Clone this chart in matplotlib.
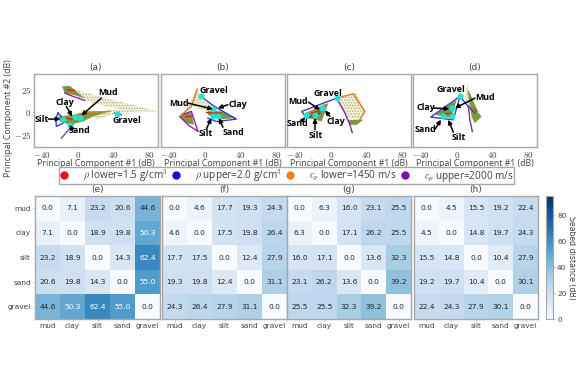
import numpy as np
import matplotlib
matplotlib.use("Agg")
import matplotlib.pyplot as plt
from matplotlib.lines import Line2D

W, H = 576, 384

seabeds = ["mud", "clay", "silt", "sand", "gravel"]
dist_e = [[0.0, 7.1, 23.2, 20.6, 44.6],
          [7.1, 0.0, 18.9, 19.8, 50.3],
          [23.2, 18.9, 0.0, 14.3, 62.4],
          [20.6, 19.8, 14.3, 0.0, 55.0],
          [44.6, 50.3, 62.4, 55.0, 0.0]]
dist_f = [[0.0, 4.6, 17.7, 19.3, 24.3],
          [4.6, 0.0, 17.5, 19.8, 26.4],
          [17.7, 17.5, 0.0, 12.4, 27.9],
          [19.3, 19.8, 12.4, 0.0, 31.1],
          [24.3, 26.4, 27.9, 31.1, 0.0]]
dist_g = [[0.0, 6.3, 16.0, 23.1, 25.5],
          [6.3, 0.0, 17.1, 26.2, 25.5],
          [16.0, 17.1, 0.0, 13.6, 32.3],
          [23.1, 26.2, 13.6, 0.0, 39.2],
          [25.5, 25.5, 32.3, 39.2, 0.0]]
dist_h = [[0.0, 4.5, 15.5, 19.2, 22.4],
          [4.5, 0.0, 14.8, 19.7, 24.3],
          [15.5, 14.8, 0.0, 10.4, 27.9],
          [19.2, 19.7, 10.4, 0.0, 30.1],
          [22.4, 24.3, 27.9, 30.1, 0.0]]

# clouds, (x, y) in dB
tan_a = [[(-16.4, 28.2), (17.2, 19), (90, 0.5), (58.2, 0.5), (17.2, 9.7), (-14.5, 22.6)],
         [(17.2, -3.3), (35.8, 2.3), (58.2, 1.6), (69.4, -0.7), (39.6, -2.5), (20.9, -8.8)]]
green_a = [[(-17.5, 28.2), (-9, 29), (-1.5, 22.6), (7.8, 15.2), (-5.2, 19), (-14.5, 20.8)],
           [(-22, -5.1), (-5.2, -3.3), (9.7, 0.5), (35.8, 0.5), (17.2, -5.1), (6, -10.7), (-9, -14.4), (-20.1, -10.7)]]
lines_a = [("#8a22b0", [(-14.5, 20.8), (-5.2, 17.1), (7.8, 12.7)]),
           ("#e2231a", [(-12, 24.5), (-3.4, 23.8)]),
           ("#3a3ad0", [(-22, -1.4), (-24.6, -7), (-23.9, -16.2), (-16.4, -12.5), (-18.3, -5.1), (-22, -1.4)]),
           ("#5a50c8", [(-18.3, -29.2), (-5.2, -14.4)]),
           ("#e07b28", [(-5.2, -5.1), (9.7, -0.7), (35.8, 0.5)]),
           ("#e2231a", [(-12.7, -7), (-3.3, -8.8)]),
           ("#8a22b0", [(41.4, -1.4), (48.9, -3.3)])]
cyan_a = [(-16.4, -7.7), (-9, -14.4), (-3.3, -5.8), (2.3, -7), (44.4, -2.5)]
labels_a = [("Mud", 34, 22), ("Clay", -14.5, 10.8), ("Silt", -40.6, -8), ("Sand", 2.3, -20.6), ("Gravel", 55.6, -9.5)]
arrows_a = [((26.5, 15.2), (4.1, -4)), ((-12.7, 6), (-6.3, -5.1)), ((-33, -8), (-19.4, -8)), ((-7, -18), (-9, -14.4))]

tan_b = [[(-8.3, 25.2), (-3.8, 13.4), (18.6, 2.3), (31.6, -6.9), (14.8, -8.8), (3.6, 0.5), (-15, 6), (-24.3, -3.3)]]
green_b = [[(3.6, 0.5), (20.4, 0.5), (35.4, -6.9), (18.6, -8.1), (3.6, -3.3)],
           [(-28, -5.1), (-20.6, -1.4), (-15, -0.7), (-12, -14.4), (-20.6, -12.5)]]
lines_b = [("#8a22b0", [(-26.2, -3.3), (-15, 0.5), (-7.5, -21.8), (-18.7, -14.4), (-28, -5.1)]),
           ("#e07b28", [(-8.3, 25.2), (-15, 6), (-26.2, -3.3)]),
           ("#e2231a", [(-22.4, -5.1), (-15, -5.1)]),
           ("#e2231a", [(1.8, -0.7), (18.6, -1.4)]),
           ("#3a3ad0", [(-4.6, 17.1), (11.1, 6), (35.4, -8.1), (13, -10.7), (3.6, -7)])]
cyan_b = [(-4.6, 17.1), (9.2, 3), (9.2, -5.1), (14.8, -5.1)]
labels_b = [("Gravel", 10.4, 23.8), ("Mud", -28.8, 9.7), ("Clay", 37.2, 7.9), ("Silt", 1, -24.3), ("Sand", 32.7, -22.5)]
arrows_b = [((-18.7, 9.7), (9.2, 3)), ((26, 7.9), (14.8, 4.1)), ((1.8, -19.2), (7.4, -7)), ((20.4, -17), (16, -7))]

tan_c = [[(6.6, 15.2), (29, 20.8), (38.3, 0.5), (34.6, -8.8), (19.7, -6.9), (12.2, 4.2)]]
green_c = [[(19.7, -8.8), (36.5, -8.8), (29, -14.4), (21.5, -14.4)],
           [(-28.8, -1.4), (-2.7, 9.7), (-10.2, -10.7), (-25, -7)]]
lines_c = [("#e07b28", [(6.6, 15.2), (25.3, 20), (38.3, 0.5), (32.7, -8.8)]),
           ("#8a22b0", [(6.6, 15.2), (16, -1.4), (21.5, -14.4), (24.1, -22.9)]),
           ("#3a3ad0", [(6.6, 15.2), (-32.5, 0.5), (-27, -7), (-12, -1.4)]),
           ("#e07b28", [(-25, -1.4), (-6.4, 7.9)]),
           ("#e2231a", [(-21.4, -1.4), (-8.3, 2.3)])]
cyan_c = [(6.6, 15.2), (-10.2, 4.2), (-17.6, -4), (-28, -4)]
labels_c = [("Gravel", -3.5, 20), ("Mud", -36.3, 11.5), ("Sand", -37, -12.5), ("Silt", -16.9, -26.2), ("Clay", 5.5, -10.7)]
arrows_c = [((-25, 10.8), (-12, 2.3)), ((-0.8, -5.1), (-6.4, 1.6)), ((-17.6, -20), (-17.6, -7)), ((-32.5, -10.7), (-28.8, -5.8))]

tan_d = [[(11.9, 30), (14.8, 20.8), (27.9, -5.1), (22.3, -12.5), (16.7, -5.1), (13, 6), (9.3, 17.1)]]
green_d = [[(11.9, 25), (14.8, 20.8), (24, -1.4), (27.9, -5.1), (20, -12.5), (16.7, -5.1), (15, 6)],
           [(-0.1, 13.4), (-24.3, -3.3), (-5.7, -7)]]
lines_d = [("#8a22b0", [(13, 6), (14.8, -8.8), (17.5, -21.8)]),
           ("#3a3ad0", [(3.6, 17.1), (13, 6), (20.4, -1.4)]),
           ("#3a3ad0", [(3.6, 17.1), (-29.2, -5.8), (-3.8, -8.8), (3.6, 17.1)]),
           ("#e2231a", [(-13, -1.4), (-6, -1.4)]),
           ("#e2231a", [(20.5, 3), (22, 1)])]
cyan_d = [(3.6, 17.1), (-5.7, 4.2), (-15, -5.1), (-5.7, -4.4)]
labels_d = [("Gravel", -6.8, 24.5), ("Mud", 31.6, 16.4), ("Clay", -34.8, 4.9), ("Sand", -34.8, -19.9), ("Silt", 1.8, -28)]
arrows_d = [((20.4, 15.2), (-2, 4.2)), ((-26, 4.2), (-8.3, 3.4)), ((-24.3, -19.2), (-17.6, -8.8)), ((-3.8, -22.5), (-9.4, -8.8))]

legend_labels = [r"$\rho$ lower=1.5 g/cm$^3$", r"$\rho$ upper=2.0 g/cm$^3$",
                 r"$c_p$ lower=1450 m/s", r"$c_p$ upper=2000 m/s"]
legend_colors = ["#e8101c", "#1010d8", "#f08020", "#7a10b0"]

GREY = "#a8a8a8"
TEXT = "#404040"
LABEL_FONT = "Open Sans"


def px_axes(left, top, right, bottom):
    return fig.add_axes([left / W, 1 - bottom / H, (right - left) / W, (bottom - top) / H])


def draw_cloud(ax, tans, greens, lines, cyans, labels, arrows):
    for poly in tans:
        x, y = zip(*poly)
        ax.fill(x, y, facecolor="#f3f2dc", edgecolor="#a9a860", hatch="......", lw=0)
    for poly in greens:
        x, y = zip(*poly)
        ax.fill(x, y, color="#7c9a3c", lw=0)
    for color, pts in lines:
        x, y = zip(*pts)
        ax.plot(x, y, color=color, lw=1.0)
    x, y = zip(*cyans)
    ax.scatter(x, y, s=11, color="#19e6d8", marker="o", zorder=3)
    for start, end in arrows:
        ax.annotate("", xy=end, xytext=start, zorder=4,
                    arrowprops=dict(arrowstyle="-|>", color="black", lw=1.1, mutation_scale=6,
                                    shrinkA=0, shrinkB=0))
    for name, x, y in labels:
        ax.text(x, y, name, fontsize=6.4, fontweight="bold", ha="center", va="center", zorder=5,
                family=LABEL_FONT)


plt.rcParams["mathtext.fontset"] = "cm"
plt.rcParams["hatch.linewidth"] = 0.6
fig = plt.figure(figsize=(W / 100, H / 100), dpi=100)

scatter_boxes = [(34, 158), (161, 285), (287, 411), (413, 537)]
clouds = [(tan_a, green_a, lines_a, cyan_a, labels_a, arrows_a),
          (tan_b, green_b, lines_b, cyan_b, labels_b, arrows_b),
          (tan_c, green_c, lines_c, cyan_c, labels_c, arrows_c),
          (tan_d, green_d, lines_d, cyan_d, labels_d, arrows_d)]
for i, ((left, right), cloud) in enumerate(zip(scatter_boxes, clouds)):
    ax = px_axes(left, 74, right, 147)
    draw_cloud(ax, *cloud)
    ax.set_xlim(-49, 90)
    ax.set_ylim(-39, 42)
    ax.set_xticks([-40, 0, 40, 80], [r"$-40$", r"$0$", r"$40$", r"$80$"], fontsize=6.5, color=TEXT)
    if i == 0:
        ax.set_yticks([-25, 0, 25], [r"$-25$", r"$0$", r"$25$"], fontsize=6.5, color=TEXT)
    else:
        ax.set_yticks([])
    ax.tick_params(length=1, width=0.5, color=GREY, pad=1)
    ax.set_xlabel("Principal Component #1 (dB)", fontsize=6.3, color=TEXT, labelpad=-0.5, family=LABEL_FONT)
    ax.set_title("(" + "abcd"[i] + ")", fontsize=6.5, color=TEXT, pad=3)
    for s in ax.spines.values():
        s.set_color(GREY)
        s.set_linewidth(1)

fig.text(9 / W, 1 - 118 / H, "Principal Component #2 (dB)", rotation=90, fontsize=6.3,
         color=TEXT, ha="center", va="center", family=LABEL_FONT)

handles = [Line2D([], [], ls="", marker="o", ms=5, color=c) for c in legend_colors]
fig.legend(handles, legend_labels, loc="center", bbox_to_anchor=(286.5 / W, 1 - 175.5 / H), ncol=4,
           prop=dict(family=LABEL_FONT, size=7.2), labelcolor=TEXT, frameon=True, fancybox=False,
           edgecolor=GREY, framealpha=1, handletextpad=1.4, columnspacing=0.3, borderpad=0.05,
           handlelength=1.0, borderaxespad=0)

heat_boxes = [(35, 160), (162, 287), (287, 411), (414, 538)]
heat_data = [dist_e, dist_f, dist_g, dist_h]
for i, ((left, right), dist) in enumerate(zip(heat_boxes, heat_data)):
    ax = px_axes(left, 196, right, 319)
    vals = np.array(dist)
    im = ax.imshow(vals, cmap="Blues", vmin=0, vmax=95, aspect="auto")
    for r in range(5):
        for c in range(5):
            ax.text(c, r, f"{vals[r, c]:.1f}", ha="center", va="center", fontsize=5.4,
                    color="white" if vals[r, c] > 47 else "#262626")
    ax.set_xticks(range(5), seabeds, fontsize=5.3, color=TEXT)
    if i == 0:
        ax.set_yticks(range(5), seabeds, fontsize=5.3, color=TEXT)
    else:
        ax.set_yticks([])
    ax.tick_params(length=1.5, width=0.5, color=GREY, pad=1.5)
    ax.set_title("(" + "efgh"[i] + ")", fontsize=6.5, color=TEXT, pad=3)
    for s in ax.spines.values():
        s.set_color(GREY)
        s.set_linewidth(1)

cax = px_axes(546, 196, 553, 319)
cb = fig.colorbar(im, cax=cax)
cb.set_ticks([0, 20, 40, 60, 80])
cb.ax.tick_params(labelsize=5.3, labelcolor=TEXT, length=1.5, width=0.5, color=GREY, pad=1.5)
cb.outline.set_edgecolor(GREY)
cb.set_label("Seabed distance (dB)", fontsize=5.6, color=TEXT, rotation=270, labelpad=7)

plt.savefig("out.png", dpi=100)
